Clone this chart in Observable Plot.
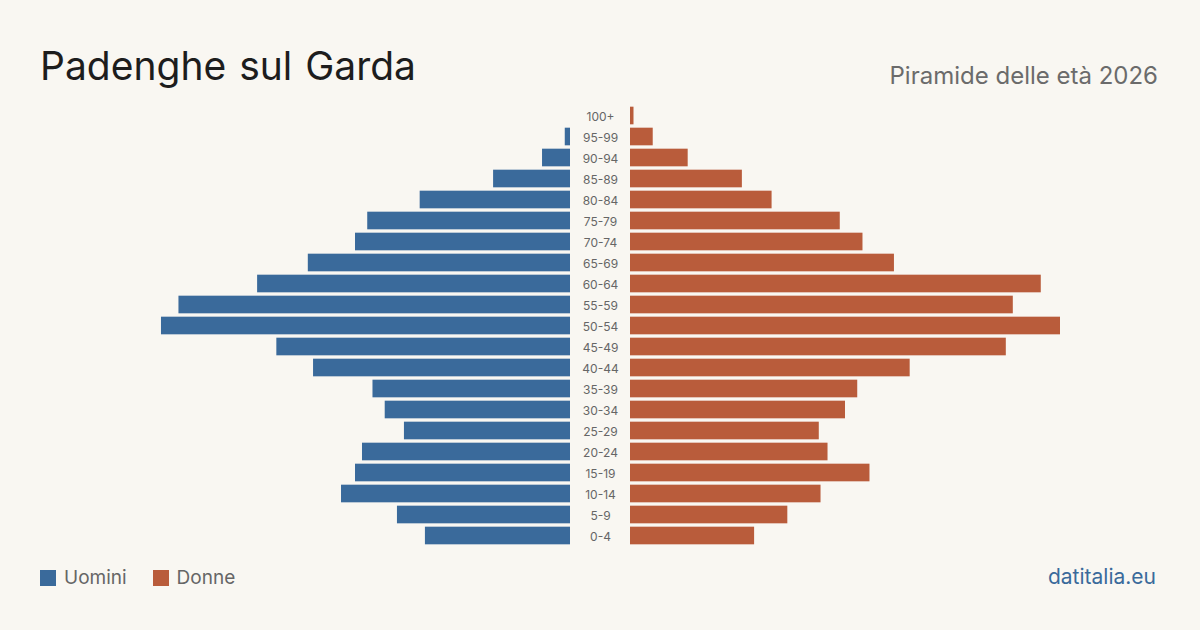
<!DOCTYPE html>
<html>
<head>
<meta charset="utf-8">
<script src="https://cdn.jsdelivr.net/npm/d3@7"></script>
<script src="https://cdn.jsdelivr.net/npm/@observablehq/plot@0.6"></script>
<style>
  html, body { margin: 0; padding: 0; }
  body { width: 1200px; height: 630px; background: #f9f7f2; position: relative; overflow: hidden; font-family: Inter, "Noto Sans", sans-serif; }
  #title { position: absolute; left: 40px; top: 46px; font-size: 39px; color: #1d1d1d; font-weight: 400; line-height: 1; word-spacing: 2px; }
  #subtitle { position: absolute; right: 42px; top: 64px; font-size: 24px; color: #6b6b6b; line-height: 1; }
  #chart { position: absolute; left: 0; top: 105px; display: flex; }
  #chart svg { display: block; }
  #legend { position: absolute; left: 40px; top: 566px; display: flex; align-items: center; font-size: 19px; color: #666; }
  .sw { width: 16px; height: 16px; display: inline-block; margin-right: 8px; }
  .item { display: flex; align-items: center; margin-right: 26px; }
  #source { position: absolute; right: 44px; top: 564px; font-size: 21px; color: #3a6a9b; }
</style>
</head>
<body>
<div id="title">Padenghe sul Garda</div>
<div id="subtitle">Piramide delle età 2026</div>
<div id="chart"></div>
<div id="legend"></div>
<div id="source">datitalia.eu</div>
<script>
const ages = ["0-4","5-9","10-14","15-19","20-24","25-29","30-34","35-39","40-44","45-49","50-54","55-59","60-64","65-69","70-74","75-79","80-84","85-89","90-94","95-99","100+"];
const uomini = [83, 99, 131, 123, 119, 95, 106, 113, 147, 168, 234, 224, 179, 150, 123, 116, 86, 44, 16, 3, 0];
const donne  = [71, 90, 109, 137, 113, 108, 123, 130, 160, 215, 246, 219, 235, 151, 133, 120, 81, 64, 33, 13, 2];
const seriesNames = ["Uomini", "Donne"];
const colors = ["#3a6a9b", "#b95c3b"];

const maxV = d3.max([...uomini, ...donne]);
const yDomain = ages.slice().reverse();
const H = 441;
const common = { height: H, marginTop: 0, marginBottom: 0, style: { background: "transparent", fontFamily: "Inter, sans-serif" } };
const yOpt = { domain: yDomain, paddingInner: 0.16, paddingOuter: 0.08, round: false, axis: null };

const menData = ages.map((a, i) => ({ age: a, v: uomini[i] }));
const womenData = ages.map((a, i) => ({ age: a, v: donne[i] }));

const left = Plot.plot({
  ...common, width: 570, marginLeft: 140, marginRight: 0,
  x: { domain: [0, maxV], reverse: true, axis: null },
  y: yOpt,
  marks: [Plot.barX(menData, { x: "v", y: "age", fill: colors[0] })]
});
const mid = Plot.plot({
  ...common, width: 60, marginLeft: 0, marginRight: 0,
  x: { domain: [0, 1], axis: null },
  y: yOpt,
  marks: [Plot.text(ages, { x: () => 0.5, y: d => d, text: d => d, fill: "#666", fontSize: 12, textAnchor: "middle", dy: 1 })]
});
const right = Plot.plot({
  ...common, width: 570, marginLeft: 0, marginRight: 140,
  x: { domain: [0, maxV], axis: null },
  y: yOpt,
  marks: [Plot.barX(womenData, { x: "v", y: "age", fill: colors[1] })]
});
const chart = document.getElementById("chart");
chart.append(left, mid, right);

const legend = document.getElementById("legend");
seriesNames.forEach((n, i) => {
  const it = document.createElement("div");
  it.className = "item";
  it.innerHTML = `<span class="sw" style="background:${colors[i]}"></span>${n}`;
  legend.append(it);
});
</script>
</body>
</html>
